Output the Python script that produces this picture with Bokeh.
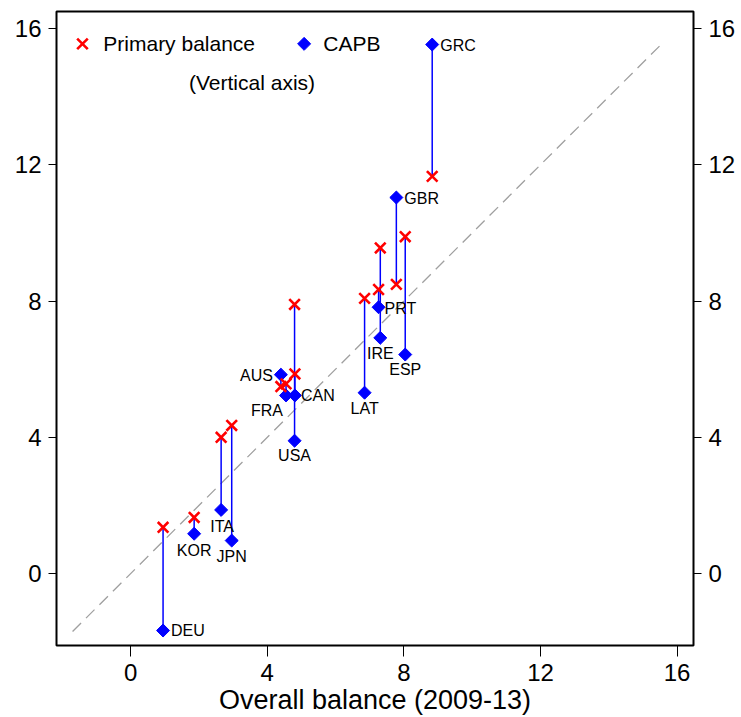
from bokeh.plotting import figure
from bokeh.models import ColumnDataSource, LinearAxis, FixedTicker, Range1d
from bokeh.core.properties import value
from bokeh.embed import file_html
from bokeh.resources import INLINE

# ---------------- data ----------------
countries = ["GRC", "GBR", "ESP", "IRE", "PRT", "LAT", "USA", "CAN",
             "AUS", "FRA", "ITA", "JPN", "KOR", "DEU"]
overall_balance = [8.83, 7.78, 8.04, 7.31, 7.26, 6.85, 4.80, 4.81,
                   4.40, 4.55, 2.65, 2.96, 1.86, 0.95]
primary_balance = [11.66, 8.49, 9.89, 9.56, 8.34, 8.08, 7.90, 5.86,
                   5.49, 5.57, 4.00, 4.35, 1.65, 1.36]
capb = [15.53, 11.04, 6.43, 6.92, 7.82, 5.31, 3.90, 5.23,
        5.84, 5.23, 1.87, 0.97, 1.17, -1.67]
ticks = [0, 4, 8, 12, 16]
diagonal = [-1.7, 15.5]
x_title = "Overall balance (2009-13)"
legend_labels = ["Primary balance", "CAPB", "(Vertical axis)"]

# ---------------- styling ----------------
FONT = "Liberation Sans"
RED = "#FF0000"
BLUE = "#0000FF"
X_RANGE = (-2.17, 16.48)
Y_RANGE = (-2.11, 16.5)

# label placement: (dx px, dy px (down), align)
label_place = {
    "GRC": (8, 1, "left"), "GBR": (8, 1, "left"), "PRT": (6, 1, "left"),
    "CAN": (6, 0, "left"), "DEU": (8, 0, "left"), "AUS": (-8, 1, "right"),
    "FRA": (-19, 15, "center"), "IRE": (0, 16, "center"), "ESP": (0, 15, "center"),
    "LAT": (0, 16, "center"), "USA": (0, 15, "center"), "ITA": (1, 17, "center"),
    "KOR": (0, 17, "center"), "JPN": (0, 16, "center"),
}

src = ColumnDataSource(dict(
    country=countries, x=overall_balance, pb=primary_balance, capb=capb,
    dx=[label_place[c][0] for c in countries],
    dy=[label_place[c][1] for c in countries],
    align=[label_place[c][2] for c in countries],
))

p = figure(width=741, height=717, output_backend="svg", toolbar_location=None,
           x_range=Range1d(*X_RANGE), y_range=Range1d(*Y_RANGE),
           min_border_left=56, min_border_right=48, min_border_top=11,
           min_border_bottom=72, background_fill_color="white",
           border_fill_color="white")
p.outline_line_color = "black"
p.outline_line_width = 2
p.grid.visible = False

# 45-degree reference line
p.line(diagonal, diagonal, line_color="#A0A0A0", line_width=1.3, line_dash="12 7")

# connecting lines
p.segment(x0="x", y0="pb", x1="x", y1="capb", source=src,
          line_color=BLUE, line_width=1.5)
# CAPB diamonds
p.scatter(x="x", y="capb", source=src, marker="square", angle=0.785398,
          size=9.2, fill_color=BLUE, line_color=BLUE)
# primary balance crosses
p.scatter(x="x", y="pb", source=src, marker="x", size=15,
          line_color=RED, line_width=2.6)

# country labels
p.text(x="x", y="capb", text="country", source=src, x_offset="dx", y_offset="dy",
       text_align="align", text_baseline="middle", text_font=value(FONT),
       text_font_size="16px", text_color="black")

# manual legend
LEG_Y = 15.55
leg_src_pb = ColumnDataSource(dict(x=[-1.41], y=[LEG_Y]))
leg_src_cp = ColumnDataSource(dict(x=[5.08], y=[LEG_Y]))
p.scatter(x="x", y="y", source=leg_src_pb, marker="x", size=15,
          line_color=RED, line_width=2.6)
p.scatter(x="x", y="y", source=leg_src_cp, marker="square", angle=0.785398,
          size=9.2, fill_color=BLUE, line_color=BLUE)
leg_txt = ColumnDataSource(dict(x=[-0.80, 5.64, 1.71], y=[LEG_Y, LEG_Y, 14.43],
                                t=legend_labels))
p.text(x="x", y="y", text="t", source=leg_txt, text_align="left",
       text_baseline="middle", text_font=value(FONT), text_font_size="21px",
       text_color="black")

# axes
p.add_layout(LinearAxis(), "right")


def style_axis(ax, tick_out, standoff):
    ax.ticker = FixedTicker(ticks=ticks)
    ax.axis_line_color = None
    ax.major_tick_in = 0
    ax.major_tick_out = tick_out
    ax.major_tick_line_color = "black"
    ax.major_tick_line_width = 1
    ax.minor_tick_line_color = None
    ax.major_label_text_font = FONT
    ax.major_label_text_font_size = "24px"
    ax.major_label_text_color = "black"
    ax.major_label_standoff = standoff


for ax in p.yaxis:
    style_axis(ax, 8, 7)
for ax in p.xaxis:
    style_axis(ax, 11, 7)
    ax.axis_label = x_title
    ax.axis_label_text_font = FONT
    ax.axis_label_text_font_size = "27px"
    ax.axis_label_text_font_style = "normal"
    ax.axis_label_text_color = "black"
    ax.axis_label_standoff = 1

open("out.html", "w").write(file_html(p, INLINE))
